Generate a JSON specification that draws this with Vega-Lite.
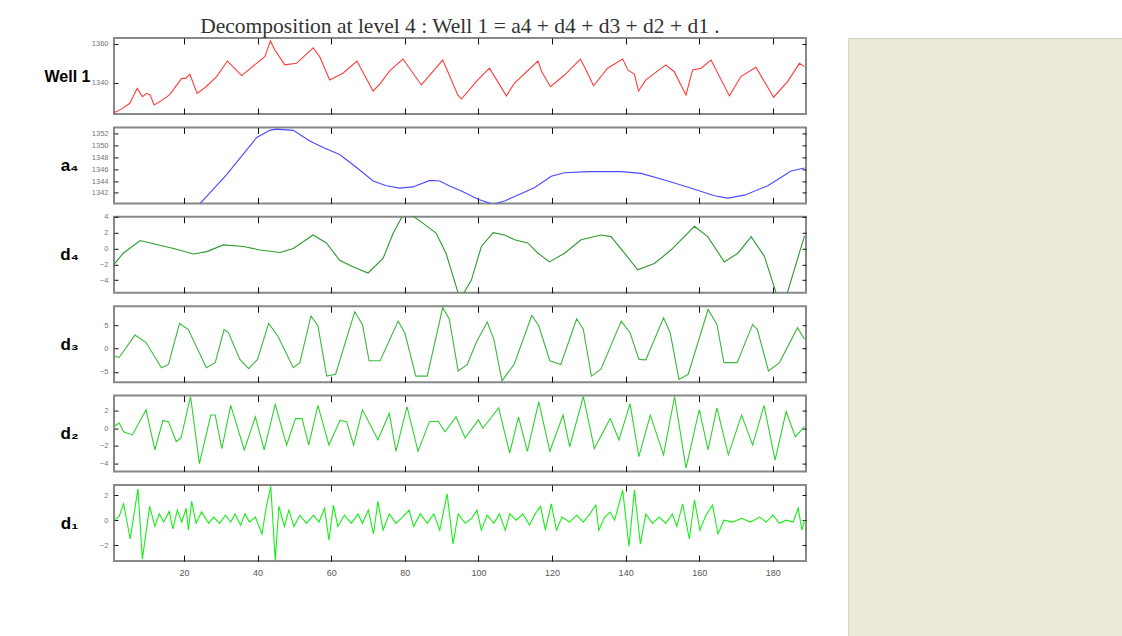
{
  "$schema": "https://vega.github.io/schema/vega-lite/v6.json",
  "padding": {"left": 43, "top": 15, "right": 0, "bottom": 0},
  "background": "white",
  "config": {
    "view": {"stroke": "#888888", "strokeWidth": 2},
    "axis": {
      "domain": false, "grid": false, "ticks": true, "tickColor": "#111111", "tickWidth": 1,
      "labelFont": "Liberation Sans", "labelFontSize": 7.5, "labelColor": "#777777",
      "titleFont": "Liberation Sans, DejaVu Sans", "titleFontSize": 17, "titleFontWeight": "bold", "titleColor": "#000000"
    }
  },
  "datasets": {
    "well": [
      {"x":1,"v":1324.7},{"x":3,"v":1326.5},{"x":5.3,"v":1329.5},{"x":7.3,"v":1337.2},{"x":8.7,"v":1332.9},{"x":9.9,"v":1334.6},{"x":10.8,"v":1333.8},{"x":11.9,"v":1328.6},{"x":14,"v":1331},{"x":16.2,"v":1334.1},{"x":19.4,"v":1342.3},{"x":20.5,"v":1342.3},{"x":21.6,"v":1344.4},{"x":23.6,"v":1334.6},{"x":26,"v":1338},{"x":28.9,"v":1343.2},{"x":31.8,"v":1351.2},{"x":35.7,"v":1343.7},{"x":39.7,"v":1350},{"x":42,"v":1353.4},{"x":43.5,"v":1361.5},{"x":44.7,"v":1356.8},{"x":47.4,"v":1349.2},{"x":50.6,"v":1350},{"x":55.1,"v":1358},{"x":56.9,"v":1353.4},{"x":59.6,"v":1341.5},{"x":63.2,"v":1344.9},{"x":67,"v":1351.2},{"x":71.4,"v":1335.8},{"x":73.2,"v":1339.3},{"x":75.9,"v":1346.1},{"x":79.5,"v":1352.2},{"x":84.5,"v":1338.9},{"x":90.3,"v":1351.7},{"x":91.7,"v":1345.7},{"x":94.4,"v":1333.8},{"x":95.4,"v":1331.7},{"x":99.4,"v":1340.6},{"x":103,"v":1347.5},{"x":107.6,"v":1333.3},{"x":109.8,"v":1339.8},{"x":116.2,"v":1351.2},{"x":117.2,"v":1345.7},{"x":119.6,"v":1338},{"x":123.4,"v":1344},{"x":127.7,"v":1352.2},{"x":128.8,"v":1348.3},{"x":131.3,"v":1338.5},{"x":135.1,"v":1347.5},{"x":139.2,"v":1352.2},{"x":140.6,"v":1346.6},{"x":142.4,"v":1344.4},{"x":143.5,"v":1335.8},{"x":145.5,"v":1341.5},{"x":150.9,"v":1349.2},{"x":153.2,"v":1345.7},{"x":156.4,"v":1333.8},{"x":158.2,"v":1346.6},{"x":160.5,"v":1347.5},{"x":163.2,"v":1351.7},{"x":168.2,"v":1333.3},{"x":171.3,"v":1343.2},{"x":175.4,"v":1348},{"x":180.2,"v":1332.6},{"x":184,"v":1340.6},{"x":187.2,"v":1350},{"x":188.6,"v":1348.3}
    ],
    "a4": [
      {"x":20,"v":1337.2},{"x":24.3,"v":1340.1},{"x":31.6,"v":1345.1},{"x":39.7,"v":1351.35},{"x":43.3,"v":1352.6},{"x":45.1,"v":1352.8},{"x":49.7,"v":1352.6},{"x":54.2,"v":1350.8},{"x":57.8,"v":1349.7},{"x":62.3,"v":1348.5},{"x":66.9,"v":1346.3},{"x":71.4,"v":1344},{"x":75,"v":1343.2},{"x":78.6,"v":1342.8},{"x":82.2,"v":1343},{"x":86.8,"v":1344.1},{"x":89.5,"v":1344},{"x":92,"v":1343.2},{"x":95.4,"v":1342.3},{"x":99.9,"v":1340.9},{"x":104,"v":1340.05},{"x":107.1,"v":1340.6},{"x":111.7,"v":1341.9},{"x":115.3,"v":1342.9},{"x":119.8,"v":1344.8},{"x":123.4,"v":1345.4},{"x":129.8,"v":1345.6},{"x":138.8,"v":1345.6},{"x":144.2,"v":1345.3},{"x":151.5,"v":1344},{"x":158.7,"v":1342.6},{"x":164.1,"v":1341.5},{"x":167.7,"v":1341.1},{"x":172.3,"v":1341.6},{"x":178.6,"v":1343.2},{"x":182.2,"v":1344.6},{"x":184.9,"v":1345.7},{"x":188.6,"v":1346.2}
    ],
    "d4": [
      {"x":1,"v":-2.0},{"x":3.5,"v":-0.6},{"x":8.1,"v":1.0},{"x":11.7,"v":0.6},{"x":17.2,"v":0.0},{"x":22.6,"v":-0.7},{"x":26.2,"v":-0.4},{"x":30.7,"v":0.45},{"x":36.2,"v":0.25},{"x":40.7,"v":-0.2},{"x":46.1,"v":-0.5},{"x":49.7,"v":0.0},{"x":55.1,"v":1.7},{"x":58.7,"v":0.7},{"x":62.3,"v":-1.5},{"x":65.9,"v":-2.3},{"x":70,"v":-3.1},{"x":74.1,"v":-1.25},{"x":76.8,"v":1.9},{"x":79.5,"v":4.2},{"x":82.2,"v":4.1},{"x":84.9,"v":3.2},{"x":88.5,"v":1.95},{"x":91.2,"v":-0.6},{"x":94.4,"v":-5.5},{"x":95.2,"v":-5.9},{"x":96.2,"v":-5.5},{"x":98.1,"v":-4.0},{"x":100.8,"v":0.25},{"x":104,"v":2.0},{"x":107.1,"v":1.7},{"x":109.8,"v":1.1},{"x":113.4,"v":0.7},{"x":116.2,"v":-0.6},{"x":119.3,"v":-1.7},{"x":123.4,"v":-0.6},{"x":127.9,"v":1.1},{"x":133.3,"v":1.7},{"x":136,"v":1.5},{"x":139.7,"v":-0.6},{"x":143.3,"v":-2.7},{"x":147.8,"v":-1.9},{"x":152.3,"v":-0.2},{"x":158.7,"v":2.8},{"x":162.3,"v":1.5},{"x":166.8,"v":-1.7},{"x":170.5,"v":-0.6},{"x":174.1,"v":1.5},{"x":177.7,"v":-1.0},{"x":180.8,"v":-5.5},{"x":182.3,"v":-6.5},{"x":184,"v":-5.5},{"x":188.6,"v":1.6}
    ],
    "d3": [
      {"x":1,"v":-1.6},{"x":2.4,"v":-1.9},{"x":6.7,"v":2.9},{"x":9.7,"v":1.3},{"x":13.9,"v":-4.1},{"x":15.8,"v":-3.4},{"x":18.8,"v":5.4},{"x":21.2,"v":4.1},{"x":26.1,"v":-4.1},{"x":28.5,"v":-3.0},{"x":30.9,"v":4.1},{"x":32.1,"v":3.4},{"x":35.2,"v":-2.3},{"x":37.6,"v":-4.3},{"x":40,"v":-2.3},{"x":43,"v":5.4},{"x":45.5,"v":2.7},{"x":49.7,"v":-4.1},{"x":51.5,"v":-3.0},{"x":54.5,"v":7.0},{"x":56.4,"v":4.9},{"x":58.8,"v":-5.9},{"x":61.2,"v":-5.5},{"x":66.4,"v":7.9},{"x":68.5,"v":5.2},{"x":70.3,"v":-2.6},{"x":73.3,"v":-2.6},{"x":78.2,"v":5.9},{"x":80,"v":3.4},{"x":83,"v":-5.9},{"x":86.1,"v":-5.9},{"x":90.3,"v":8.8},{"x":92.1,"v":6.3},{"x":94.5,"v":-4.8},{"x":97,"v":-3.4},{"x":99.4,"v":1.3},{"x":102.4,"v":5.7},{"x":104.2,"v":2.0},{"x":106.4,"v":-6.9},{"x":109.7,"v":-3.4},{"x":114.5,"v":7.1},{"x":116.4,"v":4.9},{"x":119.4,"v":-2.6},{"x":122.4,"v":-3.4},{"x":126.7,"v":6.4},{"x":128.5,"v":4.1},{"x":130.7,"v":-5.9},{"x":133.3,"v":-4.4},{"x":138.8,"v":5.9},{"x":141.2,"v":3.4},{"x":143.6,"v":-2.3},{"x":145.5,"v":-2.4},{"x":150.3,"v":6.6},{"x":152.1,"v":3.4},{"x":154.5,"v":-6.6},{"x":157,"v":-5.5},{"x":162.4,"v":8.4},{"x":164.8,"v":5.2},{"x":166.7,"v":-3.0},{"x":170.3,"v":-3.0},{"x":174.5,"v":5.2},{"x":175.8,"v":4.1},{"x":178.8,"v":-4.8},{"x":181.8,"v":-3.0},{"x":186.7,"v":4.5},{"x":188.6,"v":2.0}
    ],
    "d2": [
      {"x":1,"v":0.2},{"x":2.4,"v":0.6},{"x":3.6,"v":-0.4},{"x":6,"v":-0.75},{"x":9.7,"v":2.1},{"x":12.1,"v":-2.45},{"x":14.3,"v":0.9},{"x":15.8,"v":0.75},{"x":17.9,"v":-1.5},{"x":19.2,"v":-1.1},{"x":21.8,"v":3.6},{"x":24.2,"v":-4.0},{"x":27.3,"v":1.5},{"x":28.5,"v":1.5},{"x":30.3,"v":-2.3},{"x":32.7,"v":2.6},{"x":36.4,"v":-2.45},{"x":39.4,"v":1.3},{"x":41.8,"v":-2.45},{"x":44.8,"v":2.7},{"x":47.9,"v":-1.9},{"x":50.3,"v":1.1},{"x":52.1,"v":1.1},{"x":53.9,"v":-1.9},{"x":56.4,"v":2.6},{"x":59.4,"v":-1.9},{"x":62.4,"v":0.9},{"x":64.2,"v":0.75},{"x":66.1,"v":-1.9},{"x":68.5,"v":2.1},{"x":72.7,"v":-1.3},{"x":75.8,"v":1.7},{"x":77.6,"v":-2.6},{"x":80.6,"v":2.45},{"x":83.6,"v":-2.6},{"x":86.7,"v":0.75},{"x":89.1,"v":0.8},{"x":90.9,"v":-0.4},{"x":93.9,"v":1.3},{"x":96.4,"v":-1.1},{"x":100,"v":0.95},{"x":101.2,"v":0},{"x":105.5,"v":2.3},{"x":108.5,"v":-2.8},{"x":110.9,"v":1.3},{"x":113.3,"v":-2.6},{"x":116.4,"v":3.0},{"x":119.4,"v":-2.6},{"x":123,"v":1.5},{"x":124.8,"v":-2.1},{"x":128.5,"v":3.6},{"x":131.5,"v":-2.3},{"x":135.8,"v":1.1},{"x":138.2,"v":-1.3},{"x":141.2,"v":2.8},{"x":143.6,"v":-3.2},{"x":146.7,"v":1.5},{"x":150.3,"v":-3.0},{"x":153.3,"v":3.6},{"x":156.4,"v":-4.5},{"x":160,"v":2.1},{"x":162.4,"v":-2.45},{"x":164.8,"v":2.3},{"x":167.9,"v":-3.0},{"x":171.5,"v":1.5},{"x":174.5,"v":-1.9},{"x":177.6,"v":2.6},{"x":180.6,"v":-3.6},{"x":183.6,"v":1.9},{"x":186.1,"v":-0.95},{"x":188.6,"v":0.2}
    ],
    "d1": [
      {"x":1,"v":0},{"x":2.4,"v":0.3},{"x":3.6,"v":1.3},{"x":5.4,"v":-1.5},{"x":7.5,"v":2.5},{"x":8.7,"v":-3.1},{"x":10.7,"v":1.1},{"x":12.1,"v":-0.5},{"x":13.3,"v":0.5},{"x":14.5,"v":-0.15},{"x":16,"v":0.7},{"x":17,"v":-0.7},{"x":18.2,"v":0.8},{"x":19.4,"v":-0.15},{"x":20.6,"v":0.95},{"x":21.2,"v":-0.8},{"x":22.1,"v":1.5},{"x":23.3,"v":-0.25},{"x":24.8,"v":0.65},{"x":26.7,"v":-0.25},{"x":28.1,"v":0.25},{"x":29.7,"v":-0.25},{"x":31.3,"v":0.4},{"x":32.7,"v":-0.15},{"x":33.9,"v":0.5},{"x":35.4,"v":-0.4},{"x":36.6,"v":0.5},{"x":37.8,"v":-0.15},{"x":39.4,"v":0.25},{"x":41.2,"v":-1.1},{"x":42.4,"v":1.1},{"x":43.6,"v":2.7},{"x":44.8,"v":-3.2},{"x":45.8,"v":1.1},{"x":47.3,"v":-0.5},{"x":48.5,"v":0.8},{"x":49.9,"v":-0.5},{"x":51.5,"v":0.4},{"x":53.3,"v":-0.25},{"x":55.2,"v":0.4},{"x":56.7,"v":-0.15},{"x":58.2,"v":0.95},{"x":59.4,"v":-1.6},{"x":60.6,"v":1.2},{"x":61.8,"v":-0.5},{"x":63.6,"v":0.4},{"x":65.5,"v":-0.25},{"x":67.3,"v":0.5},{"x":68.5,"v":-0.25},{"x":70.1,"v":0.8},{"x":71.5,"v":-1.1},{"x":72.7,"v":1.5},{"x":74.1,"v":-0.8},{"x":75.8,"v":0.5},{"x":77.6,"v":-0.25},{"x":79.4,"v":0.25},{"x":81.2,"v":0.8},{"x":82.4,"v":-0.5},{"x":84.2,"v":0.5},{"x":86.1,"v":-0.25},{"x":87.9,"v":0.5},{"x":89.5,"v":-0.8},{"x":91.5,"v":2.1},{"x":93.1,"v":-1.9},{"x":94.5,"v":0.5},{"x":96.4,"v":-0.25},{"x":98.2,"v":0.15},{"x":99.6,"v":0.8},{"x":100.8,"v":-0.8},{"x":102.4,"v":0.4},{"x":104.2,"v":-0.25},{"x":105.7,"v":0.5},{"x":107.3,"v":-0.8},{"x":108.5,"v":0.5},{"x":110.3,"v":0},{"x":112.1,"v":0.5},{"x":113.9,"v":-0.4},{"x":115.4,"v":0.5},{"x":116.9,"v":1.1},{"x":118.2,"v":-0.8},{"x":119.8,"v":1.3},{"x":121.2,"v":-0.8},{"x":122.7,"v":0.25},{"x":124.8,"v":-0.15},{"x":126.7,"v":0.4},{"x":128.5,"v":-0.15},{"x":130.3,"v":0.5},{"x":131.9,"v":1.2},{"x":132.7,"v":-0.8},{"x":134.3,"v":0.25},{"x":135.8,"v":0.65},{"x":137,"v":0},{"x":139.2,"v":2.4},{"x":140.9,"v":-2.1},{"x":142.4,"v":2.4},{"x":144,"v":-1.9},{"x":145.5,"v":0.5},{"x":147.3,"v":-0.25},{"x":149.1,"v":0.25},{"x":150.9,"v":-0.25},{"x":152.7,"v":0.5},{"x":153.9,"v":-0.5},{"x":155.5,"v":1.3},{"x":157.3,"v":-1.5},{"x":158.7,"v":1.6},{"x":160.2,"v":-0.8},{"x":161.8,"v":0.4},{"x":163.6,"v":1.2},{"x":165.1,"v":-1.1},{"x":166.7,"v":0},{"x":169.1,"v":-0.15},{"x":171.5,"v":0.15},{"x":173.9,"v":-0.15},{"x":176.4,"v":0.25},{"x":178.2,"v":-0.15},{"x":180,"v":0.4},{"x":181.8,"v":-0.25},{"x":183.6,"v":0},{"x":185.5,"v":-0.15},{"x":186.9,"v":0.95},{"x":187.9,"v":-0.8},{"x":188.6,"v":0}
    ]
  },
  "spacing": 39,
  "hconcat": [
    {
      "bounds": "flush",
      "spacing": 13.4,
      "vconcat": [
        {
          "width": 692, "height": 76,
          "title": {"text": "Decomposition at level 4 : Well 1 = a4 + d4 + d3 + d2 + d1 .", "font": "Liberation Serif", "fontSize": 21.5, "fontWeight": "normal", "color": "#333333", "anchor": "middle", "frame": "group", "offset": 0},
          "data": {"name": "well"},
          "layer": [
            {"mark": {"type": "line", "clip": true, "color": "#ff3b3b", "strokeWidth": 1.1},
             "encoding": {
               "x": {"field": "x", "type": "quantitative", "scale": {"domain": [1, 189], "nice": false, "zero": false}, "axis": {"orient": "bottom", "values": [20,40,60,80,100,120,140,160,180], "labels": false, "title": null, "tickSize": -6}},
               "y": {"field": "v", "type": "quantitative", "scale": {"domain": [1324, 1363], "nice": false, "zero": false}, "axis": {"values": [1340, 1360], "format": "d", "tickSize": -4, "labelPadding": 10, "title": "Well 1", "titleFontSize": 16, "titleAngle": 0, "titleAlign": "center", "titleBaseline": "middle", "titleX": -47, "titleY": 38}}}},
            {"mark": {"type": "line", "opacity": 0},
             "encoding": {
               "x": {"field": "x", "type": "quantitative", "axis": {"orient": "top", "values": [20,40,60,80,100,120,140,160,180], "labels": false, "title": null, "tickSize": -6}},
               "y": {"field": "v", "type": "quantitative", "axis": {"orient": "right", "values": [1340, 1360], "labels": false, "title": null, "tickSize": -4}}}}
          ],
          "resolve": {"axis": {"x": "independent", "y": "independent"}}
        },
        {
          "width": 692, "height": 76,
          "data": {"name": "a4"},
          "layer": [
            {"mark": {"type": "line", "clip": true, "color": "#4a4aff", "strokeWidth": 1.1},
             "encoding": {
               "x": {"field": "x", "type": "quantitative", "scale": {"domain": [1, 189], "nice": false, "zero": false}, "axis": {"orient": "bottom", "values": [20,40,60,80,100,120,140,160,180], "labels": false, "title": null, "tickSize": -6}},
               "y": {"field": "v", "type": "quantitative", "scale": {"domain": [1340.2, 1353.1], "nice": false, "zero": false}, "axis": {"values": [1342,1344,1346,1348,1350,1352], "format": "d", "tickSize": -4, "labelPadding": 10, "title": "a₄", "titleAngle": 0, "titleAlign": "center", "titleBaseline": "middle", "titleX": -45, "titleY": 38}}}},
            {"mark": {"type": "line", "opacity": 0},
             "encoding": {
               "x": {"field": "x", "type": "quantitative", "axis": {"orient": "top", "values": [20,40,60,80,100,120,140,160,180], "labels": false, "title": null, "tickSize": -6}},
               "y": {"field": "v", "type": "quantitative", "axis": {"orient": "right", "values": [1342,1344,1346,1348,1350,1352], "labels": false, "title": null, "tickSize": -4}}}}
          ],
          "resolve": {"axis": {"x": "independent", "y": "independent"}}
        },
        {
          "width": 692, "height": 76,
          "data": {"name": "d4"},
          "layer": [
            {"mark": {"type": "line", "clip": true, "color": "#2e9a2e", "strokeWidth": 1.1},
             "encoding": {
               "x": {"field": "x", "type": "quantitative", "scale": {"domain": [1, 189], "nice": false, "zero": false}, "axis": {"orient": "bottom", "values": [20,40,60,80,100,120,140,160,180], "labels": false, "title": null, "tickSize": -6}},
               "y": {"field": "v", "type": "quantitative", "scale": {"domain": [-5.6, 4], "nice": false, "zero": false}, "axis": {"values": [-4,-2,0,2,4], "tickSize": -4, "labelPadding": 10, "title": "d₄", "titleAngle": 0, "titleAlign": "center", "titleBaseline": "middle", "titleX": -45, "titleY": 38}}}},
            {"mark": {"type": "line", "opacity": 0},
             "encoding": {
               "x": {"field": "x", "type": "quantitative", "axis": {"orient": "top", "values": [20,40,60,80,100,120,140,160,180], "labels": false, "title": null, "tickSize": -6}},
               "y": {"field": "v", "type": "quantitative", "axis": {"orient": "right", "values": [-4,-2,0,2,4], "labels": false, "title": null, "tickSize": -4}}}}
          ],
          "resolve": {"axis": {"x": "independent", "y": "independent"}}
        },
        {
          "width": 692, "height": 76,
          "data": {"name": "d3"},
          "layer": [
            {"mark": {"type": "line", "clip": true, "color": "#3cb83c", "strokeWidth": 1.1},
             "encoding": {
               "x": {"field": "x", "type": "quantitative", "scale": {"domain": [1, 189], "nice": false, "zero": false}, "axis": {"orient": "bottom", "values": [20,40,60,80,100,120,140,160,180], "labels": false, "title": null, "tickSize": -6}},
               "y": {"field": "v", "type": "quantitative", "scale": {"domain": [-7.2, 9.1], "nice": false, "zero": false}, "axis": {"values": [-5,0,5], "tickSize": -4, "labelPadding": 10, "title": "d₃", "titleAngle": 0, "titleAlign": "center", "titleBaseline": "middle", "titleX": -45, "titleY": 38}}}},
            {"mark": {"type": "line", "opacity": 0},
             "encoding": {
               "x": {"field": "x", "type": "quantitative", "axis": {"orient": "top", "values": [20,40,60,80,100,120,140,160,180], "labels": false, "title": null, "tickSize": -6}},
               "y": {"field": "v", "type": "quantitative", "axis": {"orient": "right", "values": [-5,0,5], "labels": false, "title": null, "tickSize": -4}}}}
          ],
          "resolve": {"axis": {"x": "independent", "y": "independent"}}
        },
        {
          "width": 692, "height": 76,
          "data": {"name": "d2"},
          "layer": [
            {"mark": {"type": "line", "clip": true, "color": "#2fd12f", "strokeWidth": 1.1},
             "encoding": {
               "x": {"field": "x", "type": "quantitative", "scale": {"domain": [1, 189], "nice": false, "zero": false}, "axis": {"orient": "bottom", "values": [20,40,60,80,100,120,140,160,180], "labels": false, "title": null, "tickSize": -6}},
               "y": {"field": "v", "type": "quantitative", "scale": {"domain": [-4.9, 3.7], "nice": false, "zero": false}, "axis": {"values": [-4,-2,0,2], "tickSize": -4, "labelPadding": 10, "title": "d₂", "titleAngle": 0, "titleAlign": "center", "titleBaseline": "middle", "titleX": -45, "titleY": 38}}}},
            {"mark": {"type": "line", "opacity": 0},
             "encoding": {
               "x": {"field": "x", "type": "quantitative", "axis": {"orient": "top", "values": [20,40,60,80,100,120,140,160,180], "labels": false, "title": null, "tickSize": -6}},
               "y": {"field": "v", "type": "quantitative", "axis": {"orient": "right", "values": [-4,-2,0,2], "labels": false, "title": null, "tickSize": -4}}}}
          ],
          "resolve": {"axis": {"x": "independent", "y": "independent"}}
        },
        {
          "width": 692, "height": 76,
          "data": {"name": "d1"},
          "layer": [
            {"mark": {"type": "line", "clip": true, "color": "#18ee18", "strokeWidth": 1.1},
             "encoding": {
               "x": {"field": "x", "type": "quantitative", "scale": {"domain": [1, 189], "nice": false, "zero": false}, "axis": {"orient": "bottom", "values": [20,40,60,80,100,120,140,160,180], "labels": true, "labelFontSize": 9, "labelColor": "#555555", "labelPadding": 13, "title": null, "tickSize": -6}},
               "y": {"field": "v", "type": "quantitative", "scale": {"domain": [-3.25, 2.8], "nice": false, "zero": false}, "axis": {"values": [-2,0,2], "tickSize": -4, "labelPadding": 10, "title": "d₁", "titleAngle": 0, "titleAlign": "center", "titleBaseline": "middle", "titleX": -45, "titleY": 38}}}},
            {"mark": {"type": "line", "opacity": 0},
             "encoding": {
               "x": {"field": "x", "type": "quantitative", "axis": {"orient": "top", "values": [20,40,60,80,100,120,140,160,180], "labels": false, "title": null, "tickSize": -6}},
               "y": {"field": "v", "type": "quantitative", "axis": {"orient": "right", "values": [-2,0,2], "labels": false, "title": null, "tickSize": -4}}}}
          ],
          "resolve": {"axis": {"x": "independent", "y": "independent"}}
        }
      ]
    },
    {
      "width": 274, "height": 600,
      "data": {"values": []},
      "mark": "rect",
      "view": {"fill": "#ECE9D8", "stroke": "#d6d2c2", "strokeWidth": 1}
    }
  ]
}
